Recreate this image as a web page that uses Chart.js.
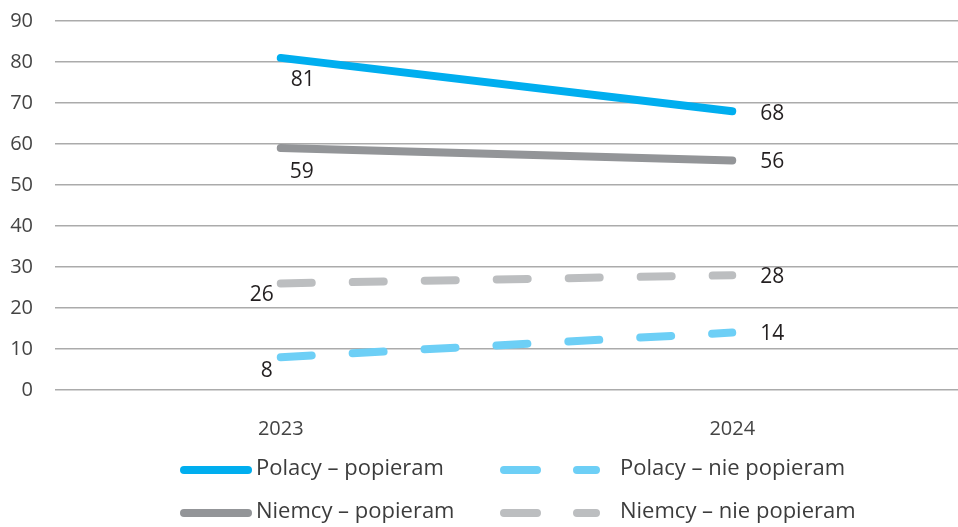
<!DOCTYPE html>
<html>
<head>
<meta charset="utf-8">
<script src="https://cdn.jsdelivr.net/npm/chart.js@4/dist/chart.umd.min.js"></script>
<style>
  html, body { margin: 0; padding: 0; background: #fff; }
  #wrap { width: 958px; height: 527px; }
</style>
</head>
<body>
<div id="wrap"><canvas id="chart"></canvas></div>
<script>
const years = ["2023", "2024"];
const polacyPopieram = [81, 68];
const polacyNiePopieram = [8, 14];
const niemcyPopieram = [59, 56];
const niemcyNiePopieram = [26, 28];
const seriesNames = [
  "Polacy – popieram",
  "Polacy – nie popieram",
  "Niemcy – popieram",
  "Niemcy – nie popieram"
];

const FONT = "'Open Sans', 'DejaVu Sans', sans-serif";

// przesunięcia etykiet względem punktu [dx, dy] dla 2023 i 2024
const labelOffsets = [
  [[22, 22], [40, 3]],
  [[-14, 14], [40, 1]],
  [[21, 24], [40, 2]],
  [[-19, 12], [40, 2]]
];

const valueLabels = {
  id: "valueLabels",
  afterDatasetsDraw(chart) {
    const ctx = chart.ctx;
    ctx.save();
    ctx.font = "21px " + FONT;
    ctx.fillStyle = "#231f20";
    ctx.textAlign = "center";
    ctx.textBaseline = "middle";
    chart.data.datasets.forEach((ds, i) => {
      chart.getDatasetMeta(i).data.forEach((pt, j) => {
        const off = labelOffsets[i][j];
        ctx.fillText(String(ds.data[j]), pt.x + off[0], pt.y + off[1]);
      });
    });
    ctx.restore();
  }
};

// legenda rysowana ręcznie: 2 kolumny, 2 wiersze
const customLegend = {
  id: "customLegend",
  afterDraw(chart) {
    const ctx = chart.ctx;
    const cols = [180, 500];
    const rows = [470, 513];
    ctx.save();
    ctx.font = "22px " + FONT;
    ctx.textBaseline = "middle";
    ctx.textAlign = "left";
    chart.data.datasets.forEach((ds, i) => {
      const x = cols[i % 2];
      const y = rows[Math.floor(i / 2)];
      const dashed = ds.borderDash && ds.borderDash.length;
      ctx.strokeStyle = ds.borderColor;
      ctx.lineWidth = 8;
      ctx.lineCap = "round";
      ctx.beginPath();
      if (dashed) {
        ctx.moveTo(x + 4, y); ctx.lineTo(x + 37, y);
        ctx.moveTo(x + 77, y); ctx.lineTo(x + 96, y);
      } else {
        ctx.moveTo(x + 4, y); ctx.lineTo(x + 68, y);
      }
      ctx.stroke();
      ctx.fillStyle = "#3c3c3c";
      ctx.fillText(ds.label, dashed ? x + 120 : x + 76, y - 1);
    });
    ctx.restore();
  }
};

function lineSet(label, data, color, dashed) {
  return {
    label,
    data,
    borderColor: color,
    backgroundColor: color,
    borderWidth: 8,
    borderCapStyle: "round",
    borderDash: dashed ? [31, 41] : [],
    pointRadius: 0,
    pointHoverRadius: 0,
    tension: 0,
    fill: false
  };
}

new Chart(document.getElementById("chart"), {
  type: "line",
  data: {
    labels: years,
    datasets: [
      lineSet(seriesNames[0], polacyPopieram, "#00aeef", false),
      lineSet(seriesNames[1], polacyNiePopieram, "#6dcff6", true),
      lineSet(seriesNames[2], niemcyPopieram, "#939598", false),
      lineSet(seriesNames[3], niemcyNiePopieram, "#bcbec0", true)
    ]
  },
  options: {
    responsive: true,
    maintainAspectRatio: false,
    animation: false,
    layout: { padding: { top: 21, right: 0, left: 0, bottom: 0 } },
    plugins: {
      legend: { display: false },
      tooltip: { enabled: false }
    },
    scales: {
      x: {
        offset: true,
        grid: { display: false },
        border: { display: false },
        ticks: { font: { size: 20, family: FONT }, color: "#444", padding: 19 },
        afterFit(scale) {
          scale.height = 137;
          scale.paddingLeft = 0; scale.paddingRight = 0;
        }
      },
      y: {
        min: 0,
        max: 90,
        ticks: { stepSize: 10, font: { size: 20, family: FONT }, color: "#444", padding: 22 },
        grid: { color: "#ababab", lineWidth: 1.5, drawTicks: false },
        border: { display: false },
        afterFit(scale) {
          scale.width = 55;
          scale.paddingTop = 0; scale.paddingBottom = 0;
        }
      }
    }
  },
  plugins: [valueLabels, customLegend]
});
</script>
</body>
</html>
